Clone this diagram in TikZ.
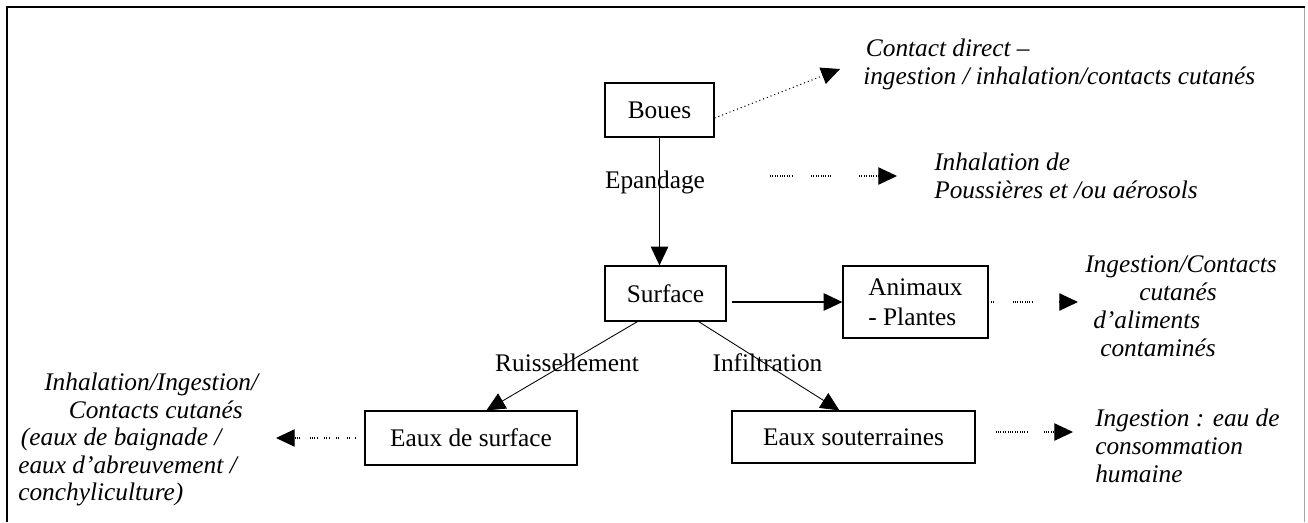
\documentclass[tikz,border=0pt]{standalone}
\usepackage{fontspec}
\setmainfont{Liberation Serif}
\usetikzlibrary{arrows.meta,calc}

\newcommand\lblfont{\fontsize{19}{20.6}\selectfont}
\newcommand\notefont{\fontsize{19}{20.6}\selectfont\itshape}

\begin{document}
\begin{tikzpicture}[x=0.75pt,y=-0.75pt,
  box/.style={draw, line width=0.9pt, inner sep=0pt, font=\lblfont},
  lbl/.style={inner sep=0pt, font=\lblfont},
  note/.style={inner sep=0pt, font=\notefont, align=left, anchor=north west},
  tip/.style={-{Triangle[length=14pt,width=13pt]}},
  solidarrow/.style={tip, line width=1pt},
  thinarrow/.style={tip, line width=0.65pt},
  fine/.style={line width=0.8pt, dash pattern=on 0.8pt off 1pt},
  sparse/.style={line width=0.8pt, dash pattern=on 0.8pt off 2.2pt},
]
\useasboundingbox (0,0) rectangle (1308,522);
\fill[white] (0,0) rectangle (1308,522);
% outer frame (open at the bottom)
\draw[line width=1.8pt] (7,522) -- (7,7) -- (1305,7);
\draw[line width=0.6pt, black!35] (1304,8) -- (1304,522);

% boxes
\node[box, minimum width=81.75pt, minimum height=40.5pt] (boues) at (659.5,110) {Boues};
\node[box, minimum width=90.75pt, minimum height=41.25pt] (surface) at (665.5,293.5) {Surface};
\node[box, minimum width=108.75pt, minimum height=54pt, align=left] (animaux) at (915.5,302) {Animaux\\[2pt]- Plantes};
\node[box, minimum width=159pt, minimum height=40.5pt] (esurf) at (471,438) {Eaux de surface};
\node[box, minimum width=182.25pt, minimum height=39pt] (esout) at (853.5,437) {Eaux souterraines};

% transfer labels
\node[lbl] (epandage) at (655,182) {Epandage};
\node[lbl] (ruiss) at (567,363) {Ruissellement};
\node[lbl] (infil) at (767.5,363) {Infiltration};

% exposure notes
\node[note] (contact) at (863,39) {\hspace*{2pt}Contact direct \textendash\\ingestion / inhalation/contacts cutanés};
\node[note] (dust) at (934,153) {Inhalation de\\Poussières et /ou aérosols};
\node[note] (food) at (1085,255) {Ingestion/Contacts\\[0.5pt]\hspace*{40.5pt}cutanés\\[0.5pt]\hspace*{6pt}d'aliments\\[0.5pt]\hspace*{11.25pt}contaminés};
\node[note] (drink) at (1095,409) {Ingestion : eau de\\[0.3pt]consommation\\[0.3pt]humaine};
\node[note] (bath) at (18,373) {\hspace*{19.5pt}Inhalation/Ingestion/\\\hspace*{38pt}Contacts cutanés\\\hspace*{2pt}(eaux de baignade /\\eaux d'abreuvement /\\conchyliculture)};

% free ends of the exposure arrows
\coordinate (contactE) at (840,69);
\coordinate (dustS) at (770,176);
\coordinate (dustE) at (897,176);
\coordinate (foodE) at (1078,302);
\coordinate (drinkE) at (1073,432);
\coordinate (bathE) at (276,438);

% transfers
\draw[solidarrow] (boues.south) -- (boues.south |- surface.north);
\draw[solidarrow, shorten <=4pt] (surface.east |- animaux.west) -- (animaux.west);
\draw[thinarrow] ([xshift=24.75pt]surface.south west) -- ([xshift=91.5pt]esurf.north west);
\draw[thinarrow] ([xshift=-21pt]surface.south east) -- ([xshift=81pt]esout.north west);

% exposure pathways (dotted)
\draw[sparse, tip] ([yshift=-6pt]boues.east) -- (contactE);

\foreach \a/\b in {0pt/17.25pt, 30.75pt/46.5pt}
  \draw[fine] ($(dustS)!\a!(dustE)$) -- ($(dustS)!\b!(dustE)$);
\draw[fine, tip] ($(dustS)!66.75pt!(dustE)$) -- (dustE);

\foreach \a/\b in {1.5pt/3.75pt, 18pt/33.75pt}
  \draw[fine] ($(animaux.east)!\a!(foodE)$) -- ($(animaux.east)!\b!(foodE)$);
\draw[fine, tip] ($(animaux.east)!52.5pt!(foodE)$) -- (foodE);

\foreach \a/\b in {15pt/39.75pt}
  \draw[fine] ($([yshift=3.75pt]esout.east)!\a!(drinkE)$) -- ($([yshift=3.75pt]esout.east)!\b!(drinkE)$);
\draw[fine, tip] ($([yshift=3.75pt]esout.east)!51pt!(drinkE)$) -- (drinkE);

\foreach \a/\b in {6pt/7.5pt, 11pt/13pt, 19pt/22pt, 26pt/30pt, 35pt/41pt}
  \draw[fine] ($(esurf.west)!\a!(bathE)$) -- ($(esurf.west)!\b!(bathE)$);
\draw[fine, tip] ($(esurf.west)!48pt!(bathE)$) -- (bathE);
\end{tikzpicture}
\end{document}
